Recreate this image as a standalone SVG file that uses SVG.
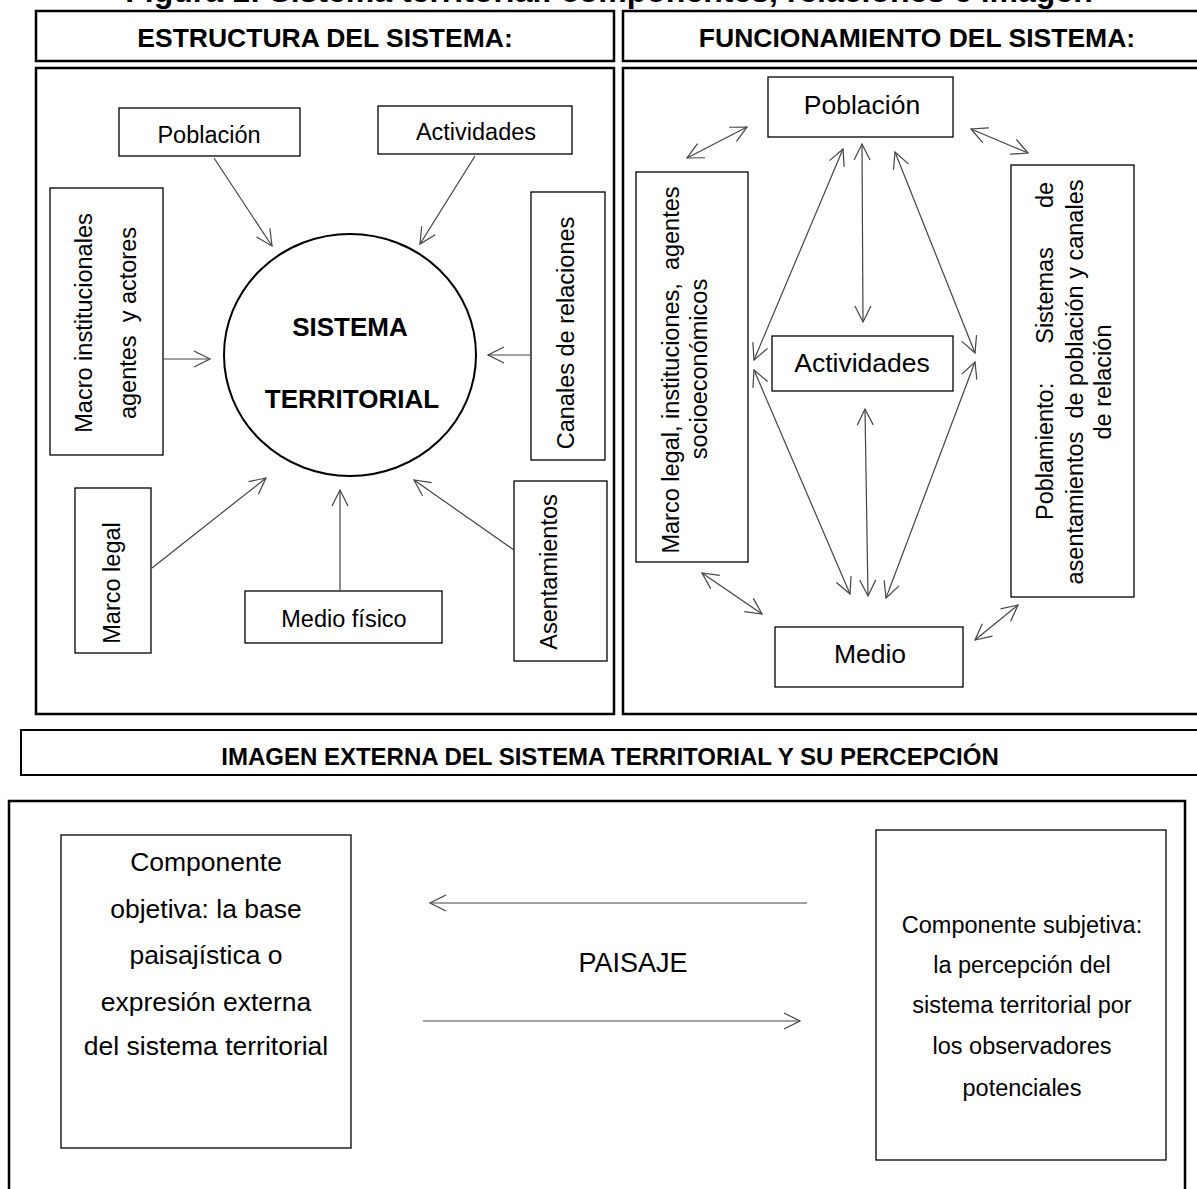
<svg xmlns="http://www.w3.org/2000/svg" width="1197" height="1189" viewBox="0 0 1197 1189">
<style>
text{font-family:"Liberation Sans",Arial,sans-serif;fill:#000;white-space:pre}
.hd{font-weight:bold;font-size:26.5px;text-anchor:middle}
.frame{fill:#fff;stroke:#000;stroke-width:2.5}
.box{fill:#fff;stroke:#000;stroke-width:1.3}
.lbl{font-size:23.5px;text-anchor:middle}
.lbl2{font-size:26.5px;text-anchor:middle}
.conn line{stroke:#444;stroke-width:1.2;fill:none}
</style>
<defs>
<marker id="ah" markerUnits="userSpaceOnUse" viewBox="-18 -10 20 20" refX="0" refY="0" markerWidth="20" markerHeight="20" orient="auto-start-reverse">
<path d="M-16,-8 L0,0 L-16,8" fill="none" stroke="#444" stroke-width="1.2"/>
</marker>
</defs>
<rect width="1197" height="1189" fill="#fff"/>
<text x="609" y="2" style="font-weight:bold;font-size:32px;text-anchor:middle">Figura 1: Sistema territorial: componentes, relaciones e imagen</text>

<g id="hdr-estructura"><rect class="frame" x="36" y="11" width="578" height="50"/><text class="hd" x="325" y="47">ESTRUCTURA DEL SISTEMA:</text></g>
<g id="hdr-funcionamiento"><rect class="frame" x="623" y="11" width="590" height="50"/><text class="hd" x="917" y="47">FUNCIONAMIENTO DEL SISTEMA:</text></g>
<g id="panel-estructura"><rect class="frame" x="36" y="68" width="578" height="646"/></g>
<g id="panel-funcionamiento"><rect class="frame" x="623" y="68" width="590" height="646"/></g>

<!-- left panel nodes -->
<g id="e-poblacion"><rect class="box" x="119" y="108" width="181" height="48"/><text class="lbl" x="209" y="143">Población</text></g>
<g id="e-actividades"><rect class="box" x="378" y="106" width="194" height="48"/><text class="lbl" x="476" y="140">Actividades</text></g>
<g id="e-macro"><rect class="box" x="50" y="188" width="113" height="267"/>
<text class="lbl" transform="translate(92,323) rotate(-90)">Macro institucionales</text>
<text class="lbl" transform="translate(136,323) rotate(-90)">agentes  y actores</text></g>
<g id="e-canales"><rect class="box" x="531" y="192" width="74" height="268"/><text class="lbl" transform="translate(574,333) rotate(-90)">Canales de relaciones</text></g>
<g id="e-sistema"><ellipse cx="350" cy="355" rx="126" ry="121" fill="#fff" stroke="#000" stroke-width="2"/>
<text x="350" y="336" style="font-weight:bold;font-size:26px;text-anchor:middle">SISTEMA</text>
<text x="352" y="408" style="font-weight:bold;font-size:26px;text-anchor:middle">TERRITORIAL</text></g>
<g id="e-marco"><rect class="box" x="75" y="488" width="76" height="165"/><text class="lbl" transform="translate(120,583) rotate(-90)">Marco legal</text></g>
<g id="e-medio"><rect class="box" x="245" y="591" width="197" height="52"/><text class="lbl" x="344" y="627">Medio físico</text></g>
<g id="e-asentamientos"><rect class="box" x="514" y="481" width="93" height="180"/><text class="lbl" transform="translate(557,572) rotate(-90)">Asentamientos</text></g>

<!-- right panel nodes -->
<g id="f-poblacion"><rect class="box" x="768" y="77" width="185" height="60"/><text class="lbl2" x="862" y="114">Población</text></g>
<g id="f-marco"><rect class="box" x="636" y="172" width="112" height="390"/>
<text class="lbl" transform="translate(679,370) rotate(-90)">Marco legal, instituciones,  agentes</text>
<text class="lbl" transform="translate(707,369) rotate(-90)">socioeconómicos</text></g>
<g id="f-actividades"><rect class="box" x="772" y="336" width="181" height="55"/><text class="lbl2" x="862" y="372">Actividades</text></g>
<g id="f-poblamiento"><rect class="box" x="1011" y="165" width="123" height="432"/>
<text class="lbl" style="text-anchor:start;word-spacing:13px" transform="translate(1053,520) rotate(-90)">Poblamiento:  Sistemas  de</text>
<text class="lbl" transform="translate(1083,382) rotate(-90)">asentamientos  de población y canales</text>
<text class="lbl" transform="translate(1111,382) rotate(-90)">de relación</text></g>
<g id="f-medio"><rect class="box" x="775" y="627" width="188" height="60"/><text class="lbl2" x="870" y="663">Medio</text></g>

<!-- bottom -->
<g id="hdr-imagen"><rect x="21" y="730" width="1190" height="45" fill="#fff" stroke="#000" stroke-width="2"/>
<text x="610" y="765" style="font-weight:bold;font-size:24px;text-anchor:middle">IMAGEN EXTERNA DEL SISTEMA TERRITORIAL Y SU PERCEPCIÓN</text></g>
<g id="panel-imagen"><rect class="frame" x="9" y="801" width="1176" height="420"/></g>
<g id="i-objetiva"><rect class="box" x="61" y="835" width="290" height="313"/>
<g style="font-size:26.5px;text-anchor:middle">
<text x="206" y="871">Componente</text>
<text x="206" y="918">objetiva: la base</text>
<text x="206" y="964">paisajística o</text>
<text x="206" y="1011">expresión externa</text>
<text x="206" y="1055">del sistema territorial</text>
</g></g>
<g id="i-paisaje"><text x="633" y="972" style="font-size:27px;text-anchor:middle">PAISAJE</text></g>
<g id="i-subjetiva"><rect class="box" x="876" y="830" width="290" height="330"/>
<g style="font-size:23.5px;text-anchor:middle">
<text x="1022" y="933">Componente subjetiva:</text>
<text x="1022" y="973">la percepción del</text>
<text x="1022" y="1013">sistema territorial por</text>
<text x="1022" y="1054">los observadores</text>
<text x="1022" y="1096">potenciales</text>
</g></g>

<g id="connectors" class="conn">
<line x1="214" y1="158" x2="272" y2="246" marker-end="url(#ah)"/>
<line x1="475" y1="156" x2="420" y2="244" marker-end="url(#ah)"/>
<line x1="163" y1="359" x2="210" y2="359" marker-end="url(#ah)"/>
<line x1="531" y1="355" x2="488" y2="355" marker-end="url(#ah)"/>
<line x1="152" y1="568" x2="266" y2="478" marker-end="url(#ah)"/>
<line x1="340" y1="590" x2="340" y2="490" marker-end="url(#ah)"/>
<line x1="514" y1="550" x2="414" y2="480" marker-end="url(#ah)"/>

<line x1="687" y1="158" x2="747" y2="127" marker-start="url(#ah)" marker-end="url(#ah)"/>
<line x1="971" y1="129" x2="1028" y2="153" marker-start="url(#ah)" marker-end="url(#ah)"/>
<line x1="702" y1="573" x2="762" y2="614" marker-start="url(#ah)" marker-end="url(#ah)"/>
<line x1="975" y1="640" x2="1018" y2="605" marker-start="url(#ah)" marker-end="url(#ah)"/>
<line x1="862" y1="144" x2="863" y2="322" marker-start="url(#ah)" marker-end="url(#ah)"/>
<line x1="865" y1="409" x2="868" y2="596" marker-start="url(#ah)" marker-end="url(#ah)"/>
<line x1="843" y1="149" x2="754" y2="360" marker-start="url(#ah)" marker-end="url(#ah)"/>
<line x1="754" y1="370" x2="850" y2="594" marker-start="url(#ah)" marker-end="url(#ah)"/>
<line x1="895" y1="152" x2="975" y2="353" marker-start="url(#ah)" marker-end="url(#ah)"/>
<line x1="975" y1="362" x2="886" y2="598" marker-start="url(#ah)" marker-end="url(#ah)"/>

<line x1="807" y1="903" x2="430" y2="903" marker-end="url(#ah)"/>
<line x1="423" y1="1021" x2="800" y2="1021" marker-end="url(#ah)"/>
</g>
</svg>
